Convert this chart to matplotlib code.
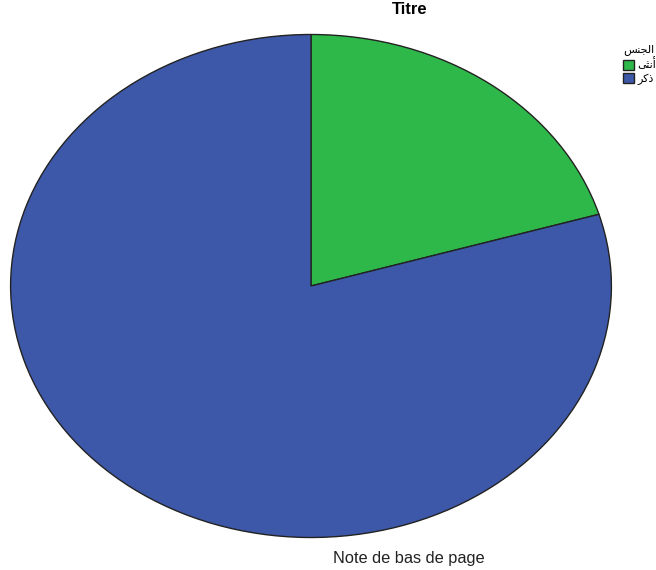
import matplotlib.pyplot as plt

# shaped Arabic (presentation forms, visual order)
legend_title = "\uFEB2\uFEE8\uFEA0\uFEDF\uFE8D"   # الجنس
labels = ["\uFEF0\uFE9C\uFEE7\uFE83", "\uFEAE\uFEDB\uFEAB"]  # أنثى, ذكر
shares = [20.4, 79.6]
colors = ["#2eb84a", "#3d58a9"]

W, H = 656, 570
fig = plt.figure(figsize=(W / 100, H / 100), dpi=100)
fig.patch.set_facecolor("white")

ax = fig.add_axes([10 / W, (H - 538) / H, 602 / W, 504 / H])
wedges, _ = ax.pie(shares, colors=colors, startangle=90, counterclock=False,
                   radius=1, wedgeprops=dict(edgecolor="#222222", linewidth=1.0))
ax.set_aspect("auto")
ax.set_xlim(-1.002, 1.002)
ax.set_ylim(-1.002, 1.002)
ax.axis("off")

fig.text(410 / W, 1 - 10 / H, "Titre", ha="center", va="center",
         fontsize=12, fontweight="bold", family="Liberation Sans")
fig.text(409 / W, 1 - 558 / H, "Note de bas de page", ha="center",
         va="center", fontsize=11.8, family="Liberation Sans", color="#222222")

leg = fig.legend(wedges, labels, title=legend_title,
                 loc="upper left", bbox_to_anchor=(615 / W, 1 - 36 / H),
                 frameon=False, fontsize=8, title_fontsize=8,
                 handlelength=1.0, handleheight=1.0, handletextpad=0.3,
                 labelspacing=0.25, borderpad=0.2, alignment="left",
                 prop={"family": "DejaVu Sans", "size": 8})
leg.get_title().set_family("DejaVu Sans")

fig.savefig("out.png", dpi=100, facecolor="white")
